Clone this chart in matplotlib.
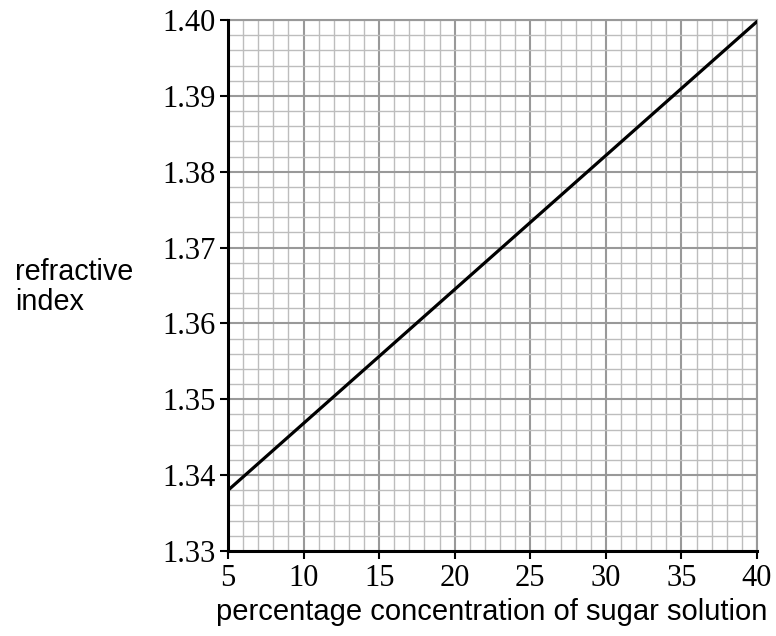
import matplotlib.pyplot as plt
from matplotlib.ticker import MultipleLocator

# Data
concentration = [5, 40]
refractive_index = [1.338, 1.3998]

x_ticks = [5, 10, 15, 20, 25, 30, 35, 40]
y_ticks = [1.33, 1.34, 1.35, 1.36, 1.37, 1.38, 1.39, 1.40]
y_tick_labels = ['1.33', '1.34', '1.35', '1.36', '1.37', '1.38', '1.39', '1.40']

fig = plt.figure(figsize=(7.76, 6.36), dpi=100)
ax = fig.add_axes([228 / 776, 1 - 551 / 636, (757 - 228) / 776, (551 - 20) / 636])

ax.plot(concentration, refractive_index, color='black', linewidth=2.3, solid_capstyle='round', zorder=5)

ax.set_xlim(5, 40)
ax.set_ylim(1.33, 1.40)
ax.set_xticks(x_ticks)
ax.set_yticks(y_ticks)
ax.set_yticklabels(y_tick_labels)
ax.xaxis.set_minor_locator(MultipleLocator(1))
ax.yaxis.set_minor_locator(MultipleLocator(0.002))

# Graph paper grid
ax.grid(which='major', color='#999999', linewidth=1.5)
ax.grid(which='minor', color='#bdbdbd', linewidth=1.0)
ax.set_axisbelow(True)

for side in ['top', 'right']:
    ax.spines[side].set_color('#999999')
    ax.spines[side].set_linewidth(1.5)
for side in ['left', 'bottom']:
    ax.spines[side].set_color('black')
    ax.spines[side].set_linewidth(2.2)
    ax.spines[side].set_zorder(6)

ax.tick_params(which='major', direction='out', length=6, width=1.5, colors='black', pad=3,
               labelsize=22)
ax.tick_params(which='minor', length=0)
for lab in ax.get_xticklabels() + ax.get_yticklabels():
    lab.set_family('Liberation Serif')

fig.text(15 / 776, 1 - 287 / 636, 'refractive\nindex', family='Liberation Sans', fontsize=20.7,
         ha='left', va='center', linespacing=1.1)
fig.text(492 / 776, 1 - 612 / 636, 'percentage concentration of sugar solution',
         family='Liberation Sans', fontsize=21, ha='center', va='center')

fig.savefig('out.png', dpi=100)
